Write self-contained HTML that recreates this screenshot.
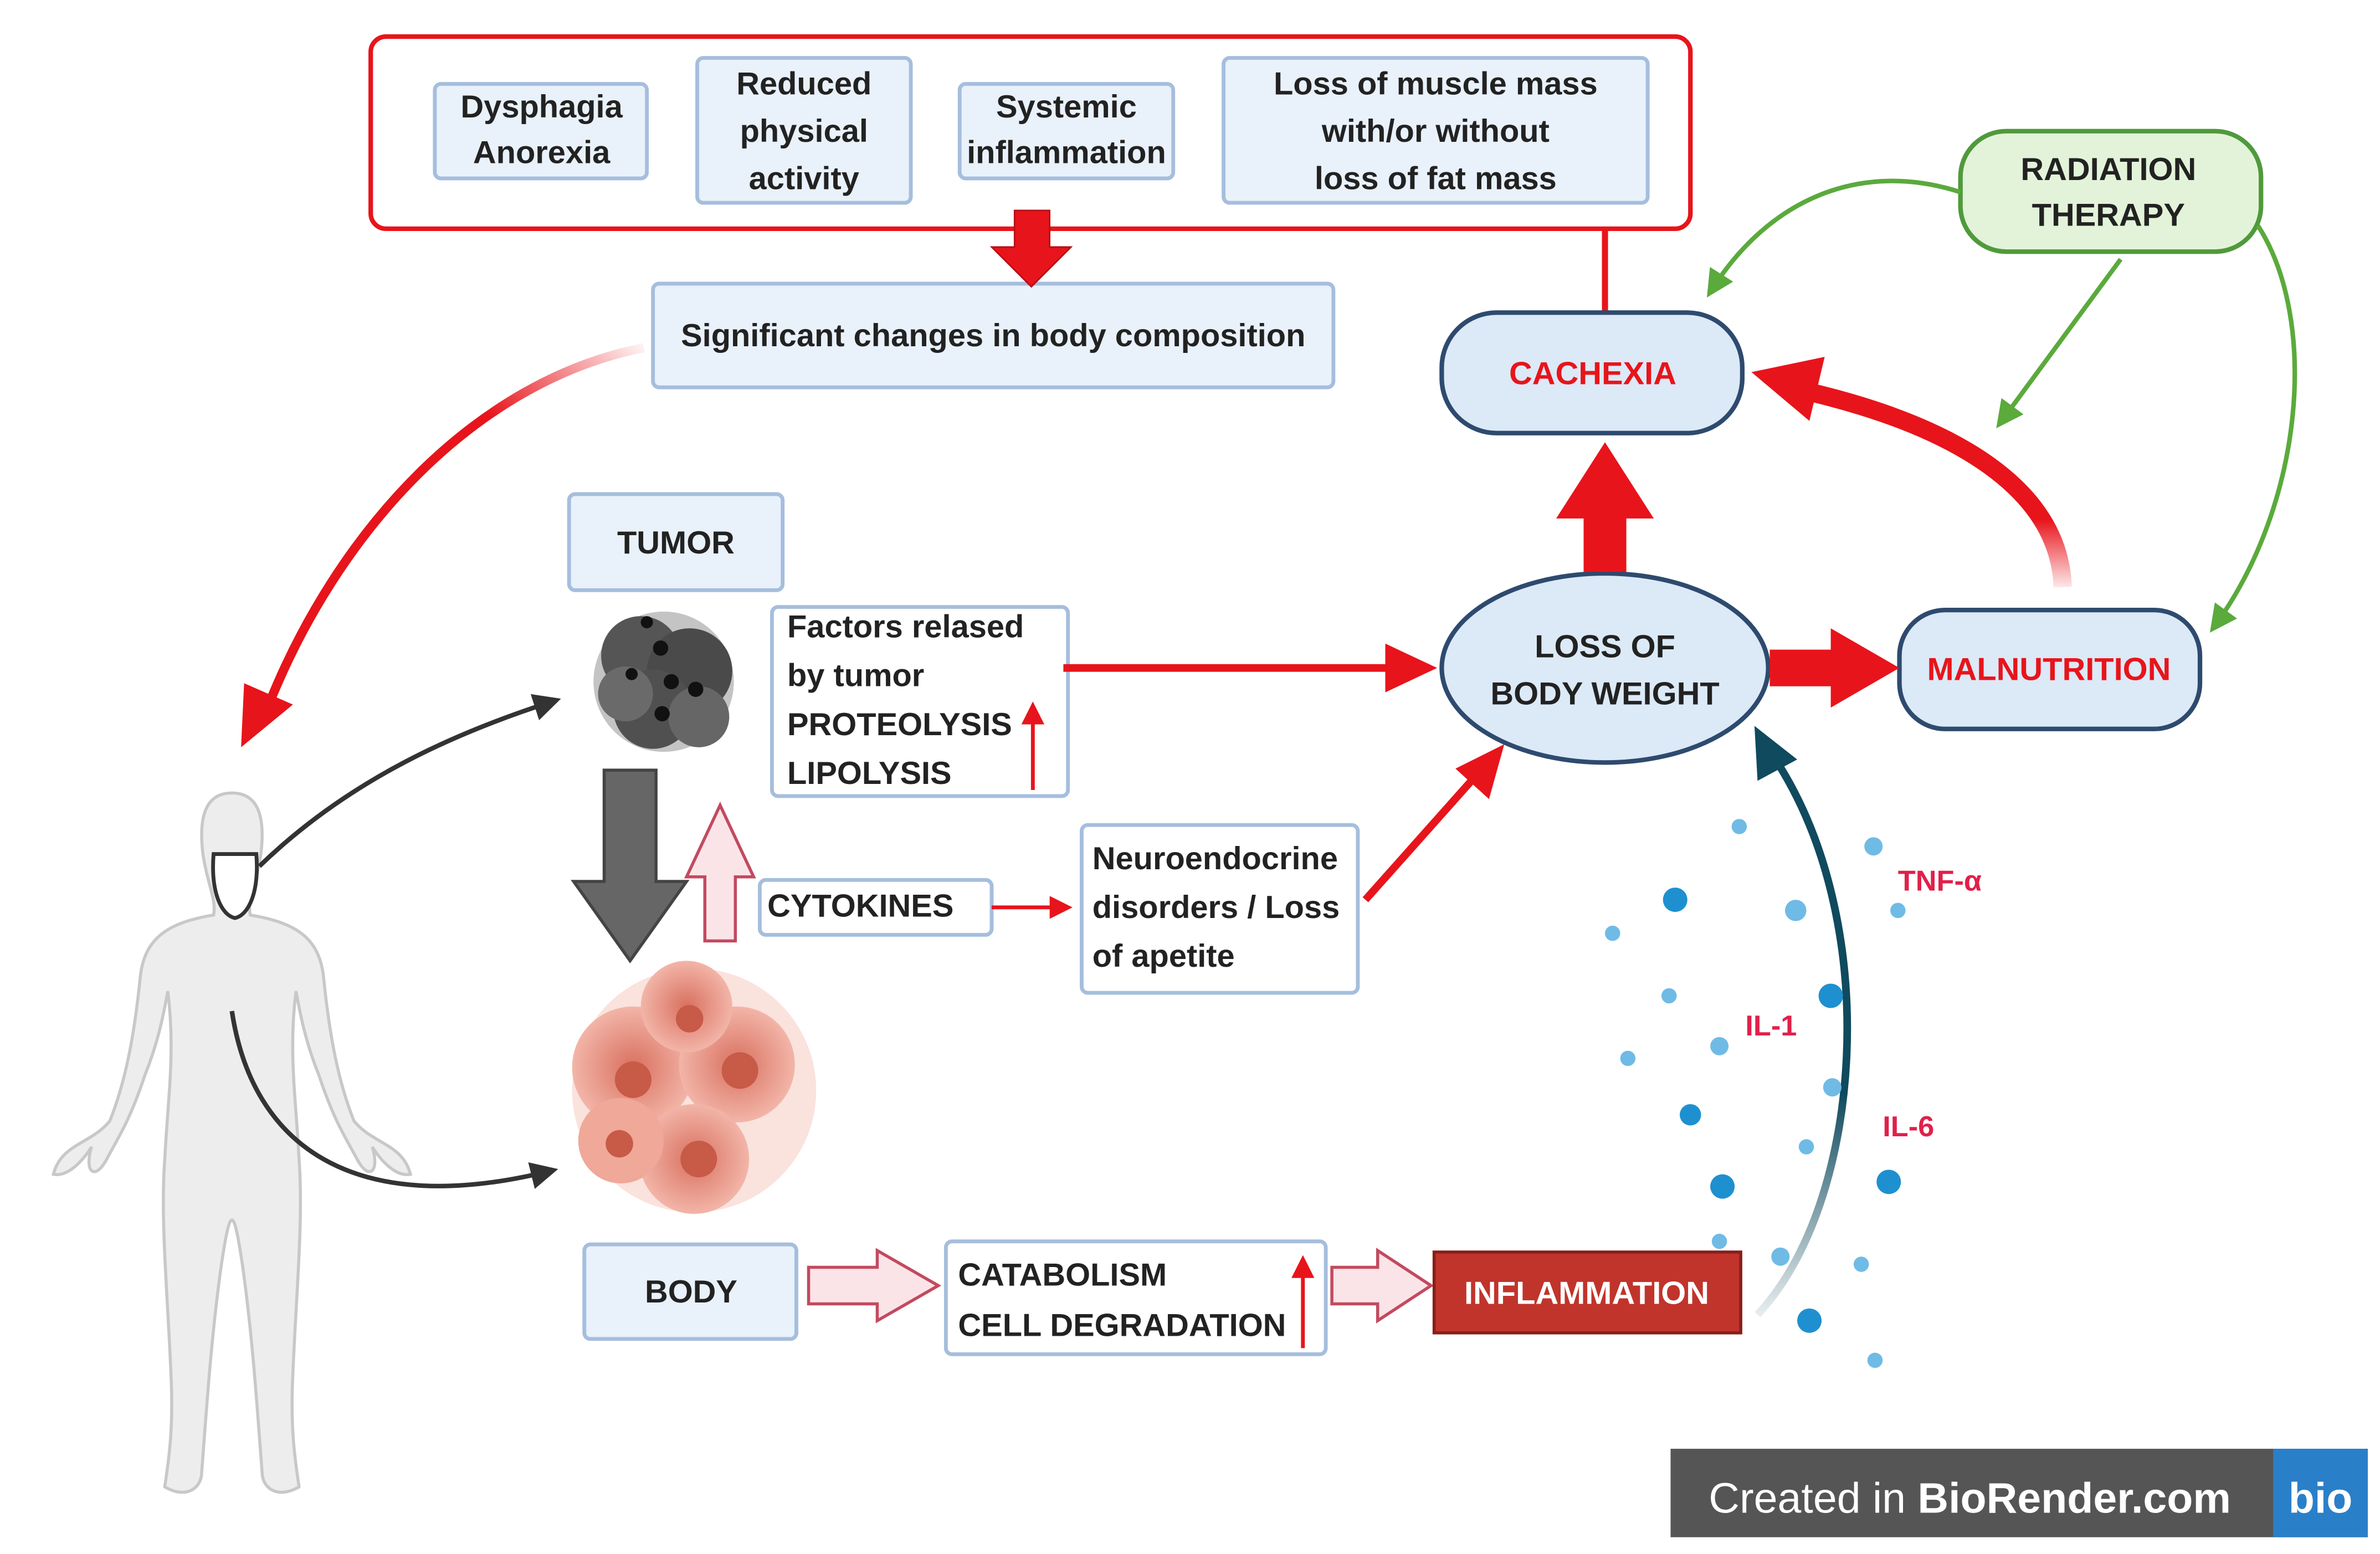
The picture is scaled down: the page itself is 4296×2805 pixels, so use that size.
<!DOCTYPE html>
<html><head><meta charset="utf-8"><style>
html,body{margin:0;padding:0;background:#fff;}
svg{display:block;}
text{font-family:"Liberation Sans",sans-serif;font-weight:bold;}
</style></head><body>
<svg width="4296" height="2805" viewBox="0 0 1560 1019" preserveAspectRatio="none" xmlns="http://www.w3.org/2000/svg">
<defs>
<marker id="rh" markerWidth="6" markerHeight="6" refX="4" refY="3" orient="auto" markerUnits="strokeWidth"><path d="M0,0 L6,3 L0,6 z" fill="#e8141b"/></marker>
<marker id="kh" markerWidth="6" markerHeight="6" refX="4" refY="3" orient="auto" markerUnits="strokeWidth"><path d="M0,0 L6,3 L0,6 z" fill="#333"/></marker>
<marker id="gh" markerWidth="6" markerHeight="6" refX="4" refY="3" orient="auto" markerUnits="strokeWidth"><path d="M0,0 L6,3 L0,6 z" fill="#5aaa3c"/></marker>
<marker id="th" markerWidth="5" markerHeight="5" refX="3" refY="2.5" orient="auto" markerUnits="strokeWidth"><path d="M0,0 L5,2.5 L0,5 z" fill="#0f4a5e"/></marker>
<linearGradient id="gr1" x1="1" y1="0" x2="0" y2="1"><stop offset="0" stop-color="#e8141b" stop-opacity="0.05"/><stop offset="0.3" stop-color="#e8141b"/><stop offset="1" stop-color="#e8141b"/></linearGradient>
<linearGradient id="gr2" x1="0" y1="1" x2="0" y2="0"><stop offset="0" stop-color="#e8141b" stop-opacity="0.1"/><stop offset="0.35" stop-color="#e8141b"/><stop offset="1" stop-color="#e8141b"/></linearGradient>
<linearGradient id="gr3" x1="0" y1="1" x2="0" y2="0"><stop offset="0" stop-color="#0f4a5e" stop-opacity="0.1"/><stop offset="0.4" stop-color="#0f4a5e"/><stop offset="1" stop-color="#0f4a5e"/></linearGradient>
<radialGradient id="pk"><stop offset="0" stop-color="#d9705f"/><stop offset="1" stop-color="#f2b5a8"/></radialGradient>
</defs>

<!-- top red container -->
<rect x="243" y="24" width="865" height="126" rx="10" fill="#fff" stroke="#e8141b" stroke-width="3"/>
<g fill="#e9f1fb" stroke="#a6bedd" stroke-width="2.5">
<rect x="285" y="55" width="139" height="62" rx="4"/>
<rect x="457" y="38" width="140" height="95" rx="4"/>
<rect x="629" y="55" width="140" height="62" rx="4"/>
<rect x="802" y="38" width="278" height="95" rx="4"/>
<rect x="428" y="186" width="446" height="68" rx="4"/>
<rect x="373" y="324" width="140" height="63" rx="4"/>
<rect x="383" y="816" width="139" height="62" rx="4"/>
</g>
<g fill="#fff" stroke="#a6bedd" stroke-width="2.5">
<rect x="506" y="398" width="194" height="124" rx="4"/>
<rect x="498" y="577" width="152" height="36" rx="4"/>
<rect x="709" y="541" width="181" height="110" rx="4"/>
<rect x="620" y="814" width="249" height="74" rx="4"/>
</g>
<g font-size="21" fill="#222" text-anchor="middle">
<text x="355" y="77">Dysphagia</text><text x="355" y="107">Anorexia</text>
<text x="527" y="62">Reduced</text><text x="527" y="93">physical</text><text x="527" y="124">activity</text>
<text x="699" y="77">Systemic</text><text x="699" y="107">inflammation</text>
<text x="941" y="62">Loss of muscle mass</text><text x="941" y="93">with/or without</text><text x="941" y="124">loss of fat mass</text>
<text x="651" y="227">Significant changes in body composition</text>
<text x="443" y="363">TUMOR</text>
<text x="453" y="854">BODY</text>
</g>
<g font-size="21" fill="#222">
<text x="516" y="418">Factors relased</text><text x="516" y="450">by tumor</text><text x="516" y="482">PROTEOLYSIS</text><text x="516" y="514">LIPOLYSIS</text>
<text x="503" y="601">CYTOKINES</text>
<text x="716" y="570">Neuroendocrine</text><text x="716" y="602">disorders / Loss</text><text x="716" y="634">of apetite</text>
<text x="628" y="843">CATABOLISM</text><text x="628" y="876">CELL DEGRADATION</text>
</g>
<!-- small up arrows -->
<line x1="677" y1="518" x2="677" y2="465" stroke="#e8141b" stroke-width="2.5" marker-end="url(#rh)"/>
<line x1="854" y1="884" x2="854" y2="828" stroke="#e8141b" stroke-width="2.5" marker-end="url(#rh)"/>

<!-- red down arrow top -->
<path d="M665,138 L688,138 L688,162 L702,162 L676,188 L650,162 L665,162 Z" fill="#e8141b" stroke="#b50f14" stroke-width="1"/>
<line x1="1052" y1="150" x2="1052" y2="205" stroke="#e8141b" stroke-width="4"/>

<!-- Cachexia -->
<rect x="945" y="205" width="197" height="79" rx="36" fill="#dce9f7" stroke="#2e4a6e" stroke-width="3"/>
<text x="1044" y="252" font-size="21" fill="#e8141b" text-anchor="middle">CACHEXIA</text>
<!-- Radiation -->
<rect x="1285" y="86" width="197" height="79" rx="30" fill="#e3f3d9" stroke="#4f9a3b" stroke-width="3"/>
<text x="1382" y="118" font-size="21" fill="#222" text-anchor="middle">RADIATION</text>
<text x="1382" y="148" font-size="21" fill="#222" text-anchor="middle">THERAPY</text>
<!-- Malnutrition -->
<rect x="1245" y="400" width="197" height="78" rx="30" fill="#dce9f7" stroke="#2e4a6e" stroke-width="3"/>
<text x="1343" y="446" font-size="21" fill="#e8141b" text-anchor="middle">MALNUTRITION</text>
<!-- LOBW -->
<ellipse cx="1052" cy="438" rx="107" ry="62" fill="#dce9f7" stroke="#2e4a6e" stroke-width="3"/>
<text x="1052" y="431" font-size="21" fill="#222" text-anchor="middle">LOSS OF</text>
<text x="1052" y="462" font-size="21" fill="#222" text-anchor="middle">BODY WEIGHT</text>

<!-- green arrows -->
<path d="M1285,126 C1220,105 1160,130 1122,190" fill="none" stroke="#5aaa3c" stroke-width="3" marker-end="url(#gh)"/>
<line x1="1390" y1="170" x2="1312" y2="276" stroke="#5aaa3c" stroke-width="3" marker-end="url(#gh)"/>
<path d="M1480,148 C1520,210 1510,330 1452,410" fill="none" stroke="#5aaa3c" stroke-width="3" marker-end="url(#gh)"/>

<!-- big red up arrow -->
<path d="M1038,375 L1066,375 L1066,340 L1084,340 L1052,290 L1020,340 L1038,340 Z" fill="#e8141b"/>
<!-- LOBW -> malnutrition -->
<path d="M1160,426 L1200,426 L1200,412 L1245,438 L1200,464 L1200,450 L1160,450 Z" fill="#e8141b"/>
<!-- malnutrition -> cachexia curved -->
<path d="M1352,385 C1350,320 1280,280 1190,258" fill="none" stroke="url(#gr2)" stroke-width="12"/>
<path d="M1148,244 L1196,234 L1186,276 Z" fill="#e8141b"/>

<!-- factors -> LOBW -->
<line x1="697" y1="438" x2="912" y2="438" stroke="#e8141b" stroke-width="5"/>
<path d="M908,422 L942,438 L908,454 Z" fill="#e8141b"/>
<!-- neuro -> LOBW -->
<line x1="895" y1="590" x2="968" y2="508" stroke="#e8141b" stroke-width="5"/>
<path d="M986,488 L976,524 L954,504 Z" fill="#e8141b"/>
<!-- cytokines -> neuro -->
<line x1="650" y1="595" x2="698" y2="595" stroke="#e8141b" stroke-width="2.5" marker-end="url(#rh)"/>

<!-- significant -> human curved -->
<path d="M422,228 C310,250 220,350 175,465" fill="none" stroke="url(#gr1)" stroke-width="6"/>
<path d="M158,490 L160,448 L192,462 Z" fill="#e8141b"/>

<!-- grey down arrow -->
<path d="M396,505 L430,505 L430,578 L450,578 L413,630 L376,578 L396,578 Z" fill="#666" stroke="#444" stroke-width="2"/>
<!-- pink up arrow -->
<path d="M462,617 L482,617 L482,575 L494,575 L472,528 L450,575 L462,575 Z" fill="#fbe4e8" stroke="#c24a5f" stroke-width="2"/>
<!-- pink outline arrows -->
<path d="M530,831 L575,831 L575,820 L615,843 L575,866 L575,855 L530,855 Z" fill="#fbe4e8" stroke="#c24a5f" stroke-width="2"/>
<path d="M873,831 L903,831 L903,820 L938,843 L903,866 L903,855 L873,855 Z" fill="#fbe4e8" stroke="#c24a5f" stroke-width="2"/>

<!-- inflammation -->
<rect x="940" y="821" width="201" height="53" fill="#c0342b" stroke="#8a1e18" stroke-width="2"/>
<text x="1040" y="855" font-size="21" fill="#fff" text-anchor="middle">INFLAMMATION</text>
<!-- teal curve -->
<path d="M1152,862 C1220,790 1235,610 1165,500" fill="none" stroke="url(#gr3)" stroke-width="5"/>
<path d="M1150,476 L1178,498 L1152,512 Z" fill="#0f4a5e"/>

<!-- dots -->
<g fill="#1e90d0">
<circle cx="1098" cy="590" r="8"/><circle cx="1200" cy="653" r="8"/><circle cx="1129" cy="778" r="8"/><circle cx="1238" cy="775" r="8"/><circle cx="1186" cy="866" r="8"/><circle cx="1108" cy="731" r="7"/>
</g>
<g fill="#6fbbe6">
<circle cx="1140" cy="542" r="5"/><circle cx="1228" cy="555" r="6"/><circle cx="1177" cy="597" r="7"/><circle cx="1244" cy="597" r="5"/><circle cx="1057" cy="612" r="5"/><circle cx="1094" cy="653" r="5"/><circle cx="1127" cy="686" r="6"/><circle cx="1067" cy="694" r="5"/><circle cx="1201" cy="713" r="6"/><circle cx="1184" cy="752" r="5"/><circle cx="1127" cy="814" r="5"/><circle cx="1167" cy="824" r="6"/><circle cx="1220" cy="829" r="5"/><circle cx="1229" cy="892" r="5"/>
</g>
<g font-size="19" fill="#e0204a">
<text x="1244" y="584">TNF-α</text><text x="1144" y="679">IL-1</text><text x="1234" y="745">IL-6</text>
</g>

<!-- tumor dark cluster -->
<g>
<circle cx="435" cy="447" r="46" fill="#8a8a8a" opacity="0.5"/>
<circle cx="420" cy="430" r="26" fill="#555"/><circle cx="452" cy="440" r="28" fill="#4a4a4a"/>
<circle cx="428" cy="465" r="26" fill="#505050"/><circle cx="458" cy="470" r="20" fill="#666"/>
<circle cx="410" cy="455" r="18" fill="#6a6a6a"/>
<g fill="#111"><circle cx="433" cy="425" r="5"/><circle cx="440" cy="447" r="5"/><circle cx="456" cy="452" r="5"/><circle cx="434" cy="468" r="5"/><circle cx="414" cy="442" r="4"/><circle cx="424" cy="408" r="4"/></g>
</g>
<!-- pink cluster -->
<g>
<circle cx="455" cy="715" r="80" fill="#f6cfc7" opacity="0.6"/>
<circle cx="415" cy="700" r="40" fill="url(#pk)"/><circle cx="483" cy="698" r="38" fill="url(#pk)"/>
<circle cx="455" cy="760" r="36" fill="url(#pk)"/><circle cx="450" cy="660" r="30" fill="url(#pk)"/>
<circle cx="407" cy="748" r="28" fill="#f0a898"/>
<g fill="#c85a48"><circle cx="415" cy="708" r="12"/><circle cx="485" cy="702" r="12"/><circle cx="458" cy="760" r="12"/><circle cx="452" cy="668" r="9"/><circle cx="406" cy="750" r="9"/></g>
</g>

<!-- human -->
<g fill="#ededed" stroke="#c8c8c8" stroke-width="2">
<path d="M152,520 C135,520 130,535 133,560 C136,580 142,590 140,600 C110,605 95,615 92,640 C88,680 82,710 72,735 C60,750 40,750 35,770 C45,772 55,760 60,752 C55,768 62,775 70,760 C78,745 85,735 95,705 C105,680 108,660 110,650 C115,690 110,720 108,760 C105,800 110,850 112,900 C114,940 110,960 108,975 C120,982 130,978 132,968 C135,930 138,880 145,830 C148,810 150,800 152,800 C154,800 156,810 159,830 C166,880 169,930 172,968 C174,978 184,982 196,975 C194,960 190,940 192,900 C194,850 199,800 196,760 C194,720 189,690 194,650 C196,660 199,680 209,705 C219,735 226,745 234,760 C242,775 249,768 244,752 C249,760 259,772 269,770 C264,750 244,750 232,735 C222,710 216,680 212,640 C209,615 194,605 164,600 C162,590 168,580 171,560 C174,535 169,520 152,520 Z"/>
</g>
<path d="M140,560 C138,585 145,600 154,602 C163,600 170,585 168,560 Z" fill="#fff" stroke="#333" stroke-width="2.5"/>
<!-- black arrows -->
<path d="M170,568 C230,510 300,480 362,460" fill="none" stroke="#333" stroke-width="3" marker-end="url(#kh)"/>
<path d="M152,663 C165,750 230,800 360,768" fill="none" stroke="#333" stroke-width="3" marker-end="url(#kh)"/>

<!-- biorender badge -->
<rect x="1095" y="950" width="457" height="58" fill="#555"/>
<rect x="1490" y="950" width="62" height="58" fill="#2a7fc9"/>
<text x="1120" y="992" font-size="28" fill="#fff" font-weight="normal" style="font-weight:normal">Created in <tspan font-weight="bold" style="font-weight:bold">BioRender.com</tspan></text>
<text x="1521" y="992" font-size="28" fill="#fff" text-anchor="middle">bio</text>
</svg>
</body></html>
